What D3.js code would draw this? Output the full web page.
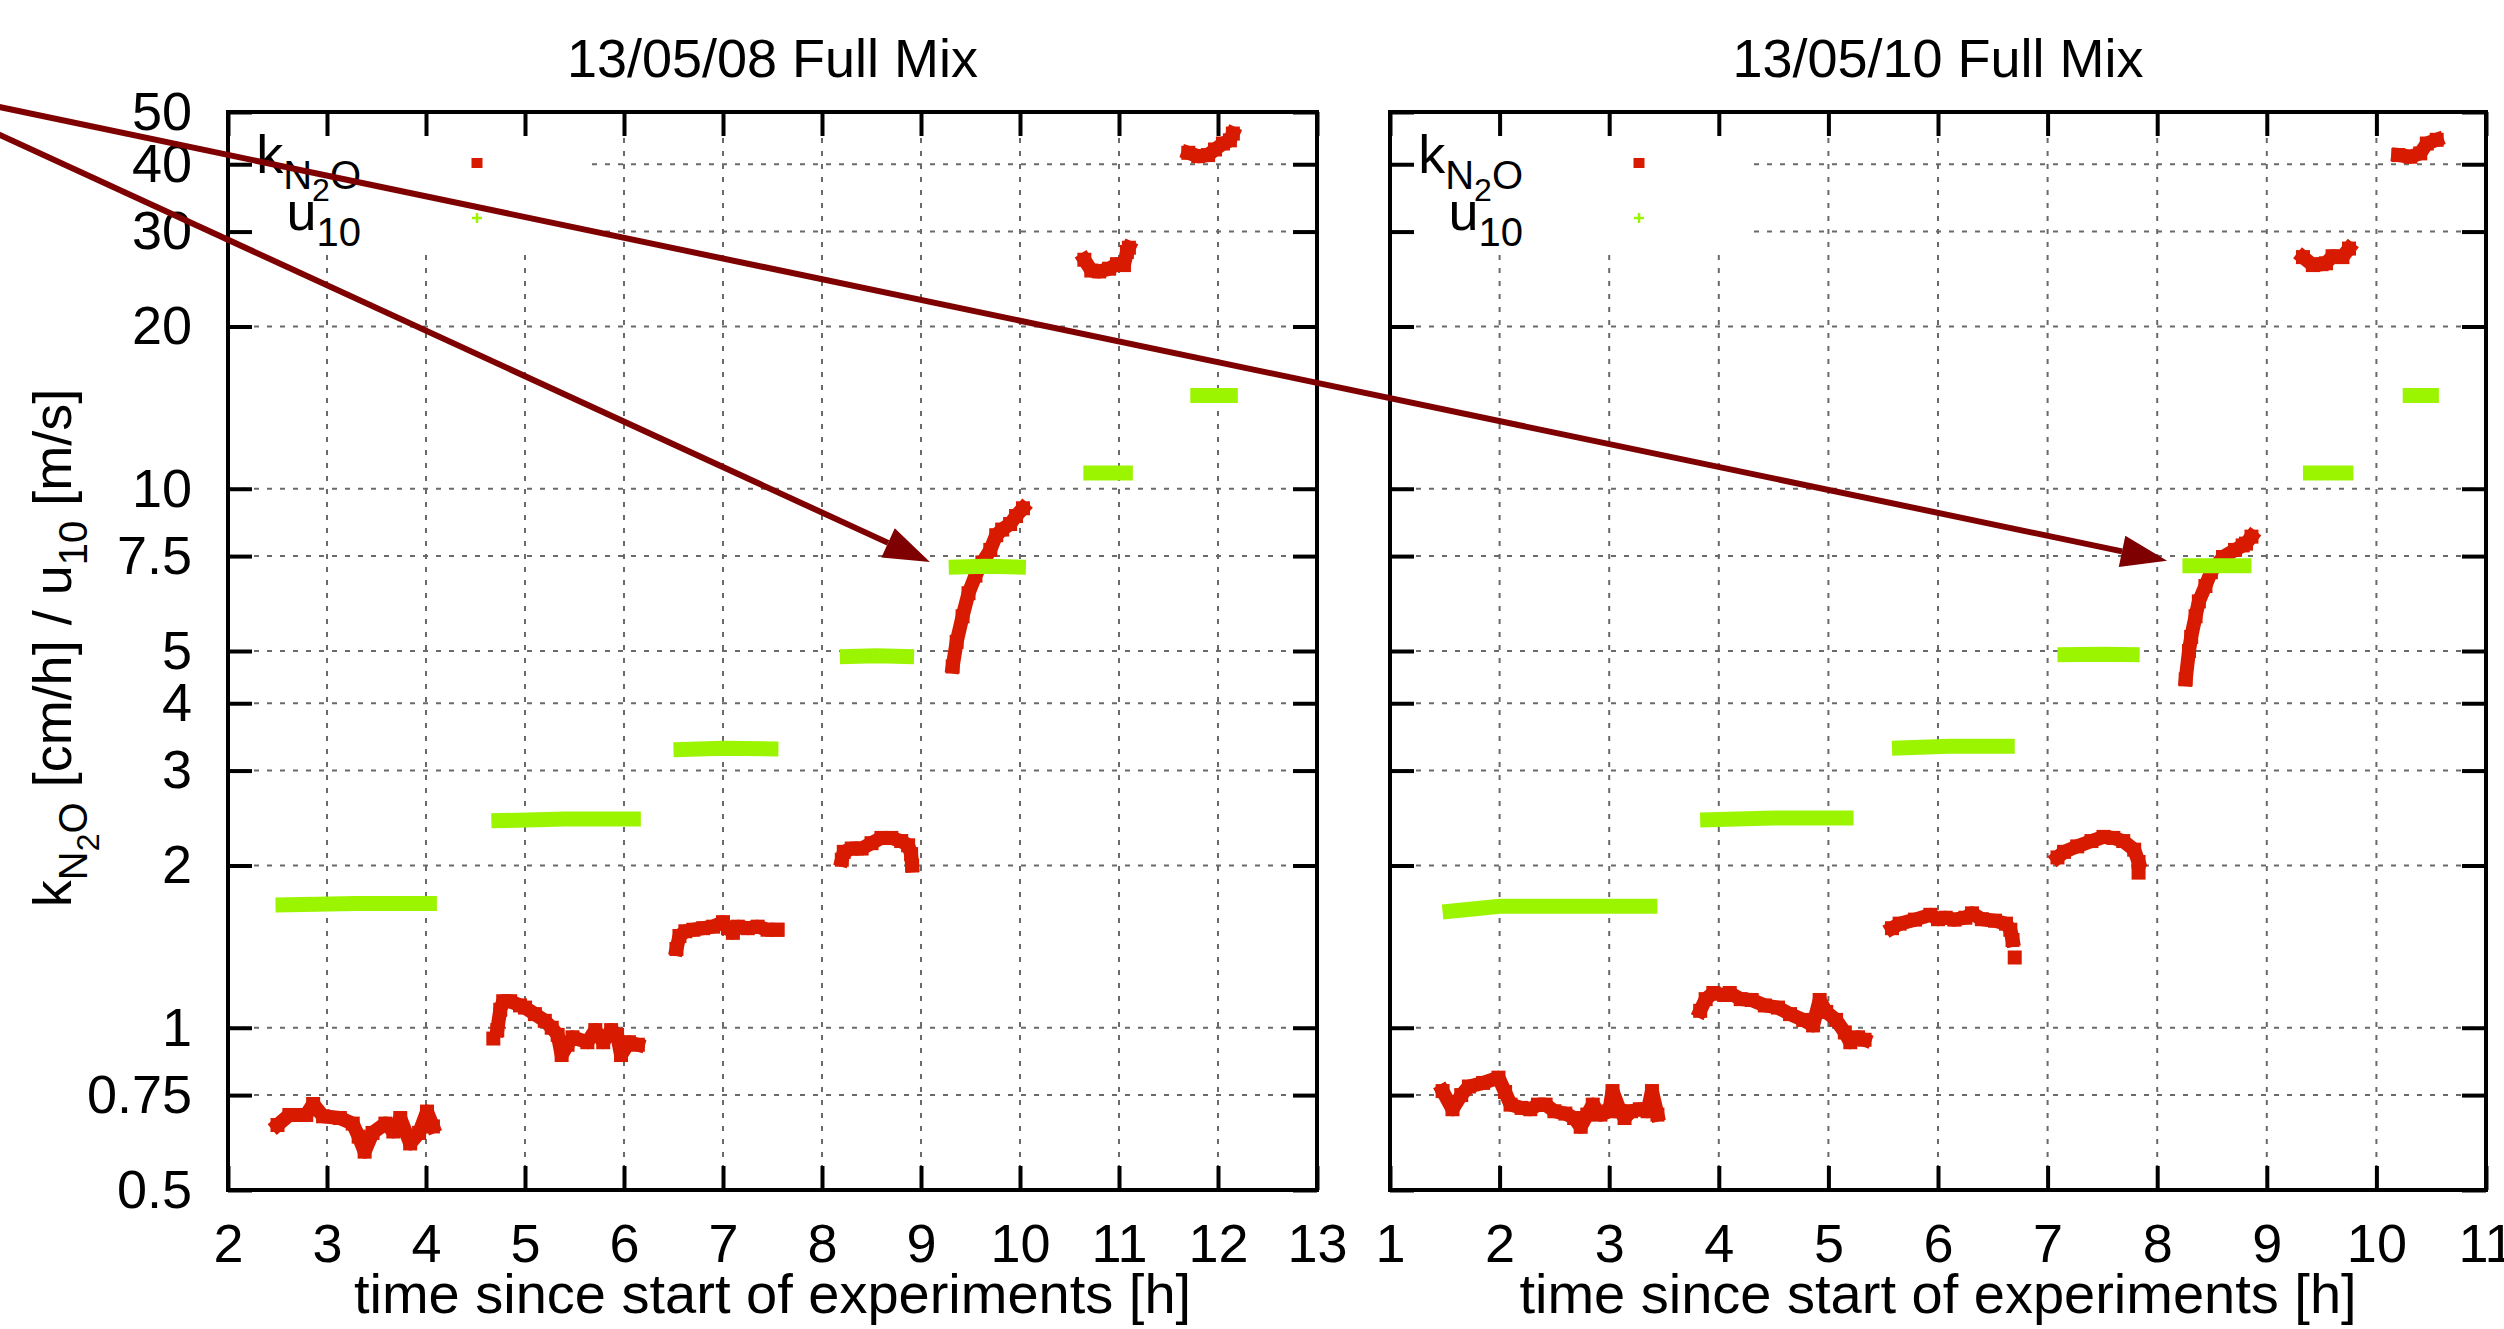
<!DOCTYPE html>
<html>
<head>
<meta charset="utf-8">
<title>kN2O and u10 - Full Mix</title>
<script src="https://cdn.jsdelivr.net/npm/d3@7"></script>
<style>
  html, body { margin: 0; padding: 0; background: #fff; }
  svg { display: block; font-family: "Liberation Sans", Arial, sans-serif; }
  .grid line { stroke: #6a6a6a; stroke-width: 2; stroke-dasharray: 5,8; }
  .frame { fill: none; stroke: #000; stroke-width: 4; }
  .axis line { stroke: #000; stroke-width: 4; }
  .axis text { font-size: 54px; fill: #000; font-family: "Liberation Sans", Arial, sans-serif; }
  .lbl { font-size: 54px; fill: #000; }
  .xlbl { font-size: 56px; fill: #000; }
</style>
</head>
<body>
<div id="chart"></div>
<script>
// ---- data (time in h, value on log axis) ----
const titles = ["13/05/08 Full Mix", "13/05/10 Full Mix"];
const xDomains = [[2, 13], [1, 11]];
const yTicks = [0.5, 0.75, 1, 2, 3, 4, 5, 7.5, 10, 20, 30, 40, 50];

// k_N2O [cm/h], 13/05/08
const kLeft = [
  [[2.50,0.66],[2.62,0.689],[2.79,0.689],[2.86,0.722],[2.96,0.685],[3.13,0.68],[3.26,0.664],[3.32,0.628],
   [3.38,0.589],[3.46,0.638],[3.59,0.664],[3.67,0.642],[3.74,0.68],[3.84,0.61],[3.93,0.638],[4.01,0.699],[4.07,0.656]],
  [[4.68,0.955]],
  [[4.72,0.99],[4.75,1.08],[4.78,1.12],[4.85,1.12],[4.95,1.10],[5.0,1.09],[5.1,1.06],[5.2,1.03],[5.27,1.0],
   [5.33,0.97],[5.37,0.89],[5.43,0.93],[5.48,0.96],[5.63,0.94],[5.71,0.99],[5.79,0.94],[5.87,0.99],[5.93,0.97],
   [5.97,0.89],[6.05,0.94],[6.14,0.93]],
  [[6.53,1.40],[6.56,1.48],[6.62,1.51],[6.7,1.52],[6.8,1.53],[6.9,1.54],[7.0,1.57],[7.05,1.53],[7.1,1.50],
   [7.15,1.54],[7.25,1.53],[7.35,1.54],[7.45,1.52],[7.55,1.52]],
  [[8.2,2.05],[8.22,2.12],[8.3,2.15],[8.4,2.15],[8.5,2.2],[8.6,2.25],[8.7,2.25],[8.8,2.22],[8.87,2.18],[8.9,2.1],[8.91,2.0]],
  [[9.32,4.68],[9.36,5.2],[9.42,5.8],[9.48,6.4],[9.55,6.9],[9.62,7.3],[9.7,7.7],[9.76,8.2],[9.82,8.4],[9.9,8.6],[9.96,8.9],[10.03,9.2]],
  [[10.65,26.6],[10.72,25.4],[10.8,25.3],[10.9,25.6],[10.98,26.1],[11.05,26.0],[11.08,27.5],[11.1,28.0]],
  [[11.7,42],[11.8,41.4],[11.9,41.6],[11.97,42.6],[12.05,43.7],[12.12,44.3],[12.15,45.6]]
];

// u10 [m/s], 13/05/08
const uLeft = [
  [[2.48,1.69],[3.3,1.70],[4.11,1.70]],
  [[4.66,2.42],[5.4,2.44],[6.17,2.44]],
  [[6.50,3.28],[7.0,3.30],[7.56,3.29]],
  [[8.18,4.88],[8.55,4.90],[8.93,4.88]],
  [[9.28,7.15],[9.65,7.18],[10.06,7.15]],
  [[10.64,10.7],[11.14,10.7]],
  [[11.72,14.9],[12.2,14.9]]
];

// k_N2O [cm/h], 13/05/10
const kRight = [
  [[1.48,0.763],[1.57,0.706],[1.65,0.75],[1.72,0.778],[1.85,0.79],[1.99,0.808],[2.05,0.76],[2.10,0.72],[2.2,0.71],
   [2.28,0.706],[2.35,0.72],[2.42,0.72],[2.5,0.70],[2.6,0.693],[2.68,0.68],[2.74,0.655],[2.8,0.69],[2.85,0.72],
   [2.92,0.69],[3.0,0.70],[3.03,0.763],[3.1,0.70],[3.14,0.68],[3.2,0.70],[3.28,0.706],[3.35,0.70],[3.39,0.763],[3.44,0.69]],
  [[3.83,1.075],[3.88,1.13],[3.95,1.16],[4.05,1.15],[4.1,1.16],[4.2,1.13],[4.3,1.126],[4.42,1.10],[4.54,1.09],
   [4.65,1.06],[4.77,1.034],[4.86,1.01],[4.92,1.126],[4.98,1.07],[5.07,1.034],[5.15,0.98],[5.2,0.94],[5.27,0.96],[5.33,0.95]],
  [[5.58,1.53],[5.65,1.56],[5.79,1.587],[5.93,1.62],[6.0,1.59],[6.07,1.60],[6.15,1.587],[6.25,1.6],[6.31,1.63],
   [6.4,1.59],[6.52,1.58],[6.62,1.56],[6.66,1.52],[6.68,1.455]],
  [[6.70,1.35]],
  [[7.09,2.07],[7.15,2.12],[7.27,2.17],[7.4,2.22],[7.51,2.26],[7.6,2.25],[7.69,2.22],[7.79,2.14],[7.83,2.03]],
  [[7.83,1.94]],
  [[8.26,4.43],[8.29,5.0],[8.31,5.31],[8.35,5.8],[8.38,6.18],[8.44,6.6],[8.49,7.0],[8.6,7.47],[8.71,7.7],[8.78,7.85],[8.81,7.91],[8.86,8.15]],
  [[9.33,26.9],[9.42,26.0],[9.5,26.1],[9.54,26.2],[9.6,27.0],[9.69,26.9],[9.75,27.9]],
  [[10.2,41.6],[10.31,41.3],[10.4,41.9],[10.46,43.7],[10.55,44.4]]
];

// u10 [m/s], 13/05/10
const uRight = [
  [[1.48,1.64],[2.0,1.68],[3.44,1.68]],
  [[3.83,2.43],[4.5,2.45],[5.23,2.45]],
  [[5.58,3.30],[6.1,3.33],[6.70,3.33]],
  [[7.09,4.92],[7.5,4.93],[7.84,4.92]],
  [[8.23,7.2],[8.55,7.2],[8.86,7.2]],
  [[9.33,10.7],[9.79,10.7]],
  [[10.24,14.9],[10.57,14.9]]
];

// arrows: common origin (in left panel coords) -> tip per panel
const arrowOrigin = [-1.43, 56.4];
const arrowTips = [[9.09, 7.31], [8.09, 7.35]];

// ---- layout ----
const width = 2504, height = 1329;
const plotTop = 112, plotBottom = 1190;
const red = "#d81a00", green = "#9cf500", arrowColor = "#7f0000";

const panels = [
  { x0: 228, x1: 1317, k: kLeft, u: uLeft, labels: true },
  { x0: 1390, x1: 2486, k: kRight, u: uRight, labels: false }
];

const svg = d3.select("#chart").append("svg")
  .attr("width", width)
  .attr("height", height);

const y = d3.scaleLog().domain([0.5, 50]).range([plotBottom, plotTop]);
const line = (x) => d3.line().x(d => x(d[0])).y(d => y(d[1]));

function subText(sel, parts) {
  // parts: [text, size, dy]
  parts.forEach(([t, size, dy]) => {
    sel.append("tspan").attr("font-size", size).attr("dy", dy).text(t);
  });
}

panels.forEach((p, i) => {
  const x = d3.scaleLinear().domain(xDomains[i]).range([p.x0, p.x1]);
  p.x = x;
  const g = svg.append("g");
  const xt = d3.range(xDomains[i][0], xDomains[i][1] + 1);

  // grid
  const grid = g.append("g").attr("class", "grid");
  grid.selectAll(".gv").data(xt.slice(1, -1)).enter().append("line")
    .attr("x1", d => x(d)).attr("x2", d => x(d))
    .attr("y1", plotTop).attr("y2", plotBottom);
  grid.selectAll(".gh").data(yTicks.slice(1, -1)).enter().append("line")
    .attr("x1", p.x0).attr("x2", p.x1)
    .attr("y1", d => y(d)).attr("y2", d => y(d));

  // opaque key box
  g.append("rect").attr("x", p.x0).attr("y", plotTop)
    .attr("width", 362).attr("height", 140).attr("fill", "#fff");

  // axes with inward ticks
  const fmt = d => String(d);
  g.append("g").attr("class", "axis")
    .attr("transform", `translate(0,${plotBottom})`)
    .call(d3.axisBottom(x).tickValues(xt).tickSizeInner(-24).tickSizeOuter(0).tickPadding(34).tickFormat(fmt));
  g.append("g").attr("class", "axis")
    .attr("transform", `translate(0,${plotTop})`)
    .call(d3.axisTop(x).tickValues(xt).tickSizeInner(-24).tickSizeOuter(0).tickFormat(""));
  g.append("g").attr("class", "axis")
    .attr("transform", `translate(${p.x0},0)`)
    .call(d3.axisLeft(y).tickValues(yTicks).tickSizeInner(-24).tickSizeOuter(0).tickPadding(36)
      .tickFormat(p.labels ? fmt : ""));
  g.append("g").attr("class", "axis")
    .attr("transform", `translate(${p.x1},0)`)
    .call(d3.axisRight(y).tickValues(yTicks).tickSizeInner(-24).tickSizeOuter(0).tickFormat(""));
  g.selectAll(".axis .domain").remove();
  g.selectAll(".axis").attr("font-size", null).attr("font-family", null);

  g.append("rect").attr("class", "frame")
    .attr("x", p.x0).attr("y", plotTop)
    .attr("width", p.x1 - p.x0).attr("height", plotBottom - plotTop);

  // k series: thick square-point trace
  const kg = g.append("g");
  p.k.forEach(seg => {
    if (seg.length > 1) {
      kg.append("path").attr("d", line(x)(seg))
        .attr("fill", "none").attr("stroke", red).attr("stroke-width", 14)
        .attr("stroke-linejoin", "round").attr("stroke-linecap", "square");
    }
    kg.selectAll(null).data(seg).enter().append("rect")
      .attr("x", d => x(d[0]) - 7).attr("y", d => y(d[1]) - 7)
      .attr("width", 14).attr("height", 14).attr("fill", red);
  });

  // u10 series
  const ug = g.append("g");
  p.u.forEach(seg => {
    ug.append("path").attr("d", line(x)(seg))
      .attr("fill", "none").attr("stroke", green).attr("stroke-width", 15);
  });

  // title and x label
  const cx = (p.x0 + p.x1) / 2;
  svg.append("text").attr("class", "lbl").attr("x", cx).attr("y", 77)
    .attr("text-anchor", "middle").text(titles[i]);
  svg.append("text").attr("class", "xlbl").attr("x", cx).attr("y", 1313)
    .attr("text-anchor", "middle").text("time since start of experiments [h]");

  // key
  const kx = p.x0 + 133, mx = p.x0 + 249;
  const t1 = g.append("text").attr("class", "lbl").attr("x", kx).attr("y", 173).attr("text-anchor", "end");
  subText(t1, [["k", 54, 0], ["N", 40, 16], ["2", 32, 12], ["O", 40, -12]]);
  g.append("rect").attr("x", mx - 5.5).attr("y", 163 - 5).attr("width", 11).attr("height", 10).attr("fill", red);
  const t2 = g.append("text").attr("class", "lbl").attr("x", kx).attr("y", 230).attr("text-anchor", "end");
  subText(t2, [["u", 54, 0], ["10", 40, 16]]);
  g.append("path").attr("d", `M${mx - 5},218H${mx + 5}M${mx},213V223`)
    .attr("stroke", green).attr("stroke-width", 2.5);
});

// y label
const yl = svg.append("text").attr("class", "lbl")
  .attr("transform", "translate(71,648) rotate(-90)")
  .attr("text-anchor", "middle");
subText(yl, [["k", 54, 0], ["N", 40, 16], ["2", 32, 12], ["O", 40, -12], [" [cm/h] / u", 54, -16], ["10", 40, 16], [" [m/s]", 54, -16]]);

// arrows
const ox = panels[0].x(arrowOrigin[0]), oy = y(arrowOrigin[1]);
arrowTips.forEach((tip, i) => {
  const tx = panels[i].x(tip[0]), ty = y(tip[1]);
  const ang = Math.atan2(ty - oy, tx - ox);
  const len = 46, hw = 16;
  const bx = tx - len * Math.cos(ang), by = ty - len * Math.sin(ang);
  svg.append("line").attr("x1", ox).attr("y1", oy).attr("x2", bx).attr("y2", by)
    .attr("stroke", arrowColor).attr("stroke-width", 6);
  const nx = -Math.sin(ang) * hw, ny = Math.cos(ang) * hw;
  svg.append("path")
    .attr("d", `M${tx},${ty}L${bx + nx},${by + ny}L${bx - nx},${by - ny}Z`)
    .attr("fill", arrowColor);
});
</script>
</body>
</html>
